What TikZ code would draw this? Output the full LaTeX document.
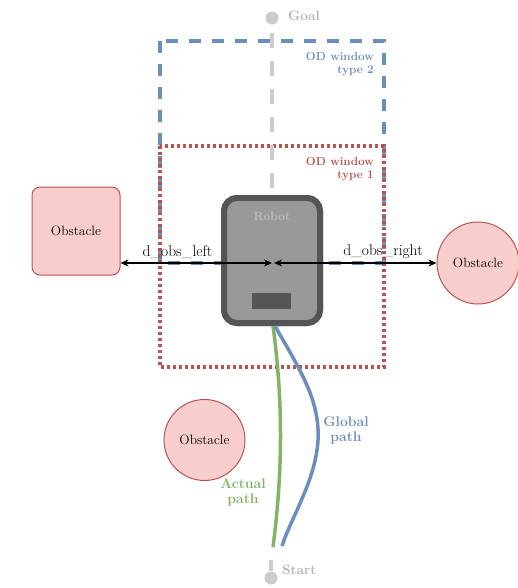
\documentclass[tikz,border=0pt]{standalone}
\usetikzlibrary{arrows.meta,shapes.geometric}
\definecolor{odblue}{HTML}{6C8EBF}
\definecolor{odred}{HTML}{B85450}
\definecolor{pathgreen}{HTML}{82B366}
\definecolor{obsfill}{HTML}{F8CECC}
\definecolor{robfill}{HTML}{999999}
\definecolor{robline}{HTML}{555555}
\definecolor{lightg}{HTML}{CCCCCC}
\definecolor{txtg}{HTML}{B3B3B3}
\tikzset{
  obsbox/.style={draw=odred, fill=obsfill, line width=1pt, font=\fontsize{13.5}{15}\selectfont},
  lbl/.style={font=\bfseries\fontsize{#1}{#1}\selectfont, inner sep=0pt, align=center},
  dist/.style={{Stealth[length=8pt,width=7pt,inset=2.5pt]}-{Stealth[length=8pt,width=7pt,inset=2.5pt]}, line width=1.2pt, black},
  dlbl/.style={font=\fontsize{15.5}{16}\selectfont, inner sep=0pt},
  pathline/.style={line width=3.5pt}
}
\begin{document}
\begin{tikzpicture}[x=1pt,y=-1pt]
\useasboundingbox (0,0) rectangle (518,588);
% OD windows
\draw[odblue, line width=3.5pt, dash pattern=on 12pt off 11pt] (160,41) rectangle (384,263);
\draw[odred, line width=3.5pt, dash pattern=on 3pt off 3pt] (160,146) rectangle (384,367);
\node[lbl=11.7, text=odblue, align=right, anchor=north east] (t2) at (374,52) {OD window\\[1pt]type 2};
\node[lbl=11.7, text=odred, align=right, anchor=north east] (t1) at (374,157) {OD window\\[1pt]type 1};
% Goal
\node[circle, fill=lightg, minimum size=13pt, inner sep=0pt] (goal) at (272,18) {};
\node[lbl=13.7, text=txtg, anchor=west] (goalt) at (288,16) {Goal};
% Robot
\node[draw=robline, fill=robfill, line width=6pt, rounded corners=13pt, minimum width=96pt, minimum height=125pt, inner sep=0pt] (robot) at (272,260.5) {};
\draw[lightg, line width=4.5pt, dash pattern=on 15pt off 13pt] ([yshift=-15pt]goal.center) -- (robot.north);
\node[draw=robline, fill=robfill, line width=6pt, rounded corners=13pt, minimum width=96pt, minimum height=125pt, inner sep=0pt] (robotb) at (272,260.5) {};
\node[lbl=12, text=txtg!85!white] (robt) at (272,216) {Robot};
\node[fill=robline, minimum width=39pt, minimum height=16pt, inner sep=0pt] (sensor) at (271.5,301) {};
% Obstacles
\node[obsbox, rounded corners=8pt, minimum width=88pt, minimum height=88pt, inner sep=0pt] (lobs) at (76,231) {Obstacle};
\node[obsbox, circle, minimum size=82pt, inner sep=0pt] (robs) at (478,263) {Obstacle};
\node[obsbox, circle, minimum size=81pt, inner sep=0pt] (bobs) at (204.5,440) {Obstacle};
% Distances
\coordinate (rcl) at (272,263);
\coordinate (rcr) at (274,263);
\draw[dist] (lobs.east |- rcl) -- (rcl);
\draw[dist] (rcr) -- (robs.west);
\node[dlbl] (dl) at (177.5,252) {d\_obs\_left};
\node[dlbl] (dr) at (383,252) {d\_obs\_right};
% Start
\node[circle, fill=lightg, minimum size=13pt, inner sep=0pt] (start) at (271,578) {};
\coordinate (stop) at (271,560);
\draw[lightg, line width=4pt] (stop) -- (start);
\node[lbl=13.6, text=txtg, anchor=west] (startt) at (282,570) {Start};
% Paths
\coordinate (gs) at (273,326);
\coordinate (ge) at (273,547);
\coordinate (bs) at (275,326);
\coordinate (bm) at (318,440);
\coordinate (be) at (282,546);
\draw[pathline, pathgreen] (gs) .. controls (283,400) and (283,470) .. (ge);
\draw[pathline, odblue] (bs) .. controls (300,370) and (320,400) .. (bm) .. controls (316,480) and (290,520) .. (be);
\node[lbl=14, text=odblue] (gp) at (346,430) {Global\\[1pt]path};
\node[lbl=14, text=pathgreen] (ap) at (243,492) {Actual\\[1pt]path};
\end{tikzpicture}
\end{document}
